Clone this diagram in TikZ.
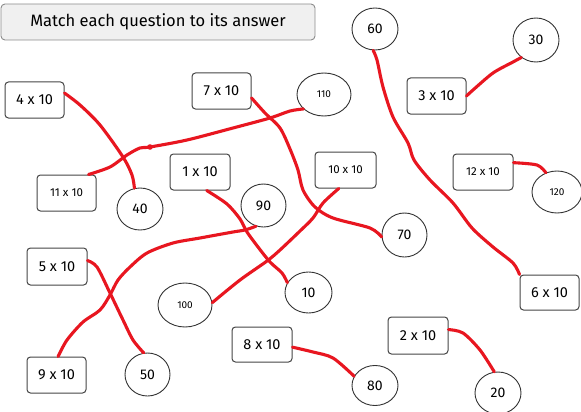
\documentclass[tikz,border=0pt]{standalone}
\usepackage{fontspec}
\setmainfont{Fira Sans}
\usetikzlibrary{shapes.geometric}
\definecolor{pen}{RGB}{232,22,32}
\definecolor{edge}{RGB}{70,70,70}
\begin{document}
\begin{tikzpicture}[x=1pt,y=-1pt,
  qbox/.style={draw=edge,line width=1pt,rounded corners=3.5pt,fill=white,minimum width=59pt,minimum height=36pt,inner sep=0pt,font=\fontsize{14.5}{15}\selectfont},
  qsmall/.style={qbox,font=\fontsize{11.5}{12}\selectfont},
  ans/.style={draw=black!80,line width=0.9pt,ellipse,fill=white,inner sep=0pt,minimum width=46pt,minimum height=42pt,font=\fontsize{14}{15}\selectfont},
  anssmall/.style={ans,font=\fontsize{10}{11}\selectfont},
  penline/.style={draw=pen,line width=3.1pt,line cap=round,line join=round}]
\useasboundingbox (0,0) rectangle (581,412);
\fill[white] (0,0) rectangle (581,412);
% title
\node[draw=black!45,fill=black!6,rounded corners=4pt,line width=0.9pt,minimum width=314pt,minimum height=36pt,inner sep=0pt,font=\fontsize{16.5}{17}\selectfont] (title) at (158,22) {Match each question to its answer};
% questions
\node[qbox] (q4) at (34.5,100) {4 x 10};
\node[qbox] (q7) at (221.5,91) {7 x 10};
\node[qsmall] (q11) at (66.5,193) {11 x 10};
\node[qbox,minimum width=60pt] (q1) at (200,172) {1 x 10};
\node[qbox] (q3) at (436.5,96) {3 x 10};
\node[qsmall,minimum width=61pt] (q10) at (345.5,170) {10 x 10};
\node[qsmall,minimum width=60pt] (q12) at (483,172) {12 x 10};
\node[qbox,minimum height=35pt] (q6) at (549.5,292.5) {6 x 10};
\node[qbox,minimum width=60pt,minimum height=37pt] (q2) at (418,335.5) {2 x 10};
\node[qbox,minimum width=60pt,minimum height=35pt] (q8) at (262,344.5) {8 x 10};
\node[qbox,minimum width=60pt,minimum height=37pt] (q5) at (57,266.5) {5 x 10};
\node[qbox] (q9) at (56.5,375) {9 x 10};
% answers
\node[ans] (a40) at (140,209) {40};
\node[ans,minimum width=45pt,minimum height=43pt] (a90) at (263.5,205.5) {90};
\node[anssmall,minimum width=54pt,minimum height=43pt] (a110) at (324,94.5) {110};
\node[ans] (a60) at (375,29) {60};
\node[ans,minimum height=44pt] (a30) at (536,40) {30};
\node[ans,minimum width=45pt,minimum height=44pt] (a70) at (404.5,235) {70};
\node[ans,minimum width=47pt,minimum height=41pt] (a10) at (308.5,292.5) {10};
\node[anssmall,minimum width=50pt] (a120) at (557,192) {120};
\node[anssmall,minimum width=54pt,minimum height=44pt] (a100) at (185,305) {100};
\node[ans,minimum width=45pt,minimum height=43pt] (a50) at (147.5,374.5) {50};
\node[ans,minimum height=40pt] (a80) at (375,385.5) {80};
\node[ans] (a20) at (498,393) {20};
% red matching lines
\draw[penline] plot[smooth,tension=0.5] coordinates {(q4.13) (80,105) (100,125) (123,157) (132,175) (a40.105)};
\draw[penline] plot[smooth,tension=0.5] coordinates {(q11.40) (110,167) (127,155) (140,148) (150,147) (187,140) (233,128) (270,118) (290,111) (a110.215)};
\fill[pen] (150,147) circle (2.8pt);
\draw[penline] plot[smooth,tension=0.5] coordinates {(q7.-13) (265,113) (280,128) (290,149) (298,170) (303,190) (315,207) (333,218) (370,228) (a70.185)};
\draw[penline] plot[smooth,tension=0.5] coordinates {(q1.-70) (227,204) (240,219) (247,232) (258,247) (270,262) (282,273) (a10.155)};
\draw[penline] plot[smooth,tension=0.5] coordinates {(a90.250) (245,230) (233,232) (200,238) (173,243) (147,253) (130,267) (118,280) (110,295) (100,310) (83,322) (67,340) (q9.85)};
\draw[penline] plot[smooth,tension=0.5] coordinates {(q5.11) (97,267) (110,293) (123,320) (133,340) (a50.100)};
\draw[penline] plot[smooth,tension=0.5] coordinates {(q10.250) (323,203) (313,218) (300,231) (280,250) (267,261) (240,280) (a100.5)};
\draw[penline] plot[smooth,tension=0.5] coordinates {(a60.265) (377,60) (383,87) (393,117) (408,143) (414,160) (430,180) (453,203) (472,228) (493,247) (513,263) (q6.north west)};
\draw[penline] plot[smooth,tension=0.5] coordinates {(q3.east) (473,90) (493,73) (513,62) (a30.230)};
\draw[penline] plot[smooth,tension=0.5] coordinates {(q12.17) (537,165) (a120.120)};
\draw[penline] plot[smooth,tension=0.5] coordinates {(q8.-5) (313,352) (333,358) (a80.156)};
\draw[penline] plot[smooth,tension=0.5] coordinates {(q2.11) (463,333) (480,350) (a20.100)};
\end{tikzpicture}
\end{document}
